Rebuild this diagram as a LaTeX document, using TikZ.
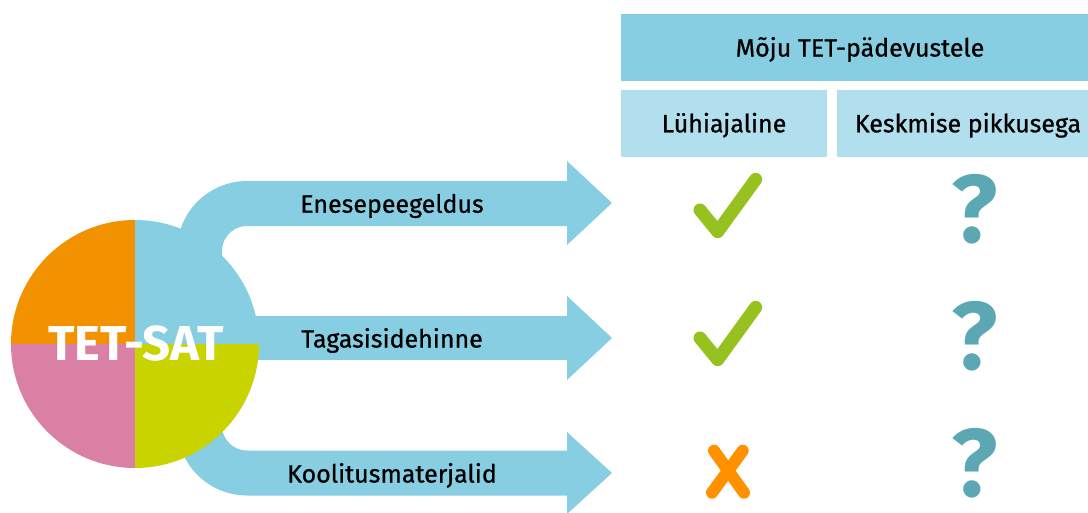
\documentclass[tikz,border=0pt]{standalone}
\usepackage{fontspec}
\setmainfont{Fira Sans}
\newfontfamily\medfont{Fira Sans}[FakeBold=0.8]
\definecolor{arrowblue}{HTML}{88CEE3}
\definecolor{subblue}{HTML}{B1DFED}
\definecolor{qorange}{HTML}{F39200}
\definecolor{qpink}{HTML}{DB80A5}
\definecolor{qyellow}{HTML}{C8D300}
\definecolor{checkgreen}{HTML}{96C11F}
\definecolor{crossorange}{HTML}{FF9100}
\definecolor{qteal}{HTML}{5BA8B4}
\tikzset{
  band/.style={draw=arrowblue, line width=45pt, line cap=butt, rounded corners=47.5pt},
  head/.style={fill=arrowblue},
  lbl/.style={font=\medfont\fontsize{25}{28}\selectfont, text=black, inner sep=0pt, anchor=base},
  hdr/.style={font=\medfont\fontsize{25}{28}\selectfont, text=black, inner sep=0pt, anchor=base},
  checkmark/.style={draw=checkgreen, line width=13pt, line cap=round, line join=round},
  crossmark/.style={draw=crossorange, line width=12pt, line cap=round},
  qmark/.style={font=\bfseries\fontsize{96}{100}\selectfont, text=qteal, inner sep=0pt, anchor=base}
}
\begin{document}
\begin{tikzpicture}[x=1pt,y=-1pt]
\useasboundingbox (0,0) rectangle (1088,512);
% header table
\fill[arrowblue] (621,14) rectangle (1088,81);
\node[hdr] (mojuh) at (860,56.5) {Mõju TET-pädevustele};
\fill[subblue] (621,90) rectangle (827,157);
\node[hdr] (lyhi) at (724,132.3) {Lühiajaline};
\fill[subblue] (837,90) rectangle (1088,157);
\node[hdr] (kesk) at (968,132.3) {Keskmise pikkusega};
% arrow anchors
\coordinate (c) at (135,344);
\coordinate (a1s) at (199.5,330);
\coordinate (a1k) at (199.5,203.5);
\coordinate (a1e) at (568,203.5);
\coordinate (a2s) at (135,338);
\coordinate (a2e) at (568,338);
\coordinate (a3s) at (199.5,360);
\coordinate (a3k) at (199.5,473);
\coordinate (a3e) at (568,473);
% bands
\draw[band] (a1s) -- (a1k) -- (a1e);
\draw[band, line width=44pt] (a2s) -- (a2e);
\draw[band] (a3s) -- (a3k) -- (a3e);
% heads
\fill[head] (567,161) -- (612,203) -- (567,245) -- cycle;
\fill[head] (567,296) -- (612,338) -- (567,380) -- cycle;
\fill[head] (567,432) -- (612,473) -- (567,514) -- cycle;
% labels
\node[lbl] (l1) at (392,212.7) {Enesepeegeldus};
\node[lbl] (l2) at (392,347.5) {Tagasisidehinne};
\node[lbl] (l3) at (392,482.5) {Koolitusmaterjalid};
% circle
\node[circle, minimum size=248pt, inner sep=0pt] (sat) at (c) {};
\begin{scope}
\clip (c) circle[radius=124];
\fill[qorange] (c) rectangle ++(-130,-130);
\fill[arrowblue] (c) rectangle ++(130,-130);
\fill[qpink] (c) rectangle ++(-130,130);
\fill[qyellow] (c) rectangle ++(130,130);
\end{scope}
\node[font=\bfseries\fontsize{49}{52}\selectfont, text=white, inner sep=0pt, anchor=base] (satlbl) at (136,360) {TET-SAT};
% marks
\draw[checkmark] (700,210) -- (717.7,231.7) -- (755.7,179.3);
\draw[checkmark] (700,338) -- (717.7,359.7) -- (755.7,307.3);
\draw[crossmark] (714,450.7) -- (744,492.7);
\draw[crossmark] (742.7,450.7) -- (712,492.7);
\node[qmark] (q1) at (975,242) {?};
\node[qmark] (q2) at (975,369) {?};
\node[qmark] (q3) at (975,496) {?};
\end{tikzpicture}
\end{document}
